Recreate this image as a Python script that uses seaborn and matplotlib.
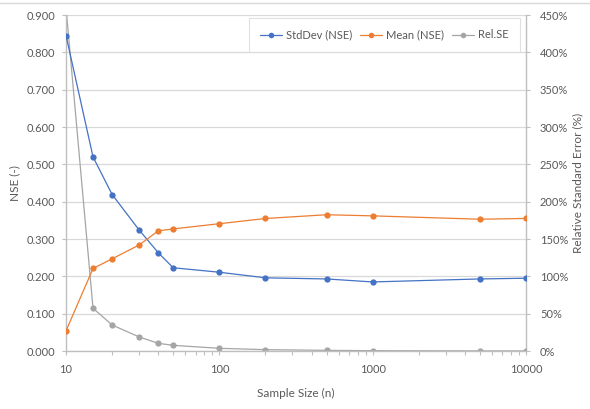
import matplotlib
matplotlib.use("Agg")
import matplotlib.pyplot as plt
import matplotlib.ticker as mticker
from matplotlib.lines import Line2D
import pandas as pd
import seaborn as sns

# sample sizes and the three series
sample_size = [10, 15, 20, 30, 40, 50, 100, 200, 500, 1000, 5000, 10000]
std_nse = [0.845, 0.520, 0.419, 0.324, 0.263, 0.223, 0.211, 0.196, 0.193, 0.185, 0.193, 0.195]
mean_nse = [0.054, 0.221, 0.247, 0.284, 0.322, 0.327, 0.341, 0.355, 0.365, 0.362, 0.353, 0.355]
rel_se = [460, 57.2, 34.8, 18.8, 10.3, 7.6, 3.6, 1.8, 0.9, 0.4, 0.1, 0.1]

blue = "#4472C4"
orange = "#ED7D31"
grey = "#A5A5A5"
txt = "#595959"

sns.set_theme(style="white")
plt.rcParams["font.family"] = ["Lato", "DejaVu Sans"]

df = pd.DataFrame({"n": sample_size, "std": std_nse, "mean": mean_nse, "rel": rel_se})

fig = plt.figure(figsize=(5.9, 4.09), dpi=100)
ax = fig.add_axes([0.1119, 0.1418, 0.7796, 0.8215])
ax2 = ax.twinx()
# NSE series on top of the Rel.SE line
ax.set_zorder(ax2.get_zorder() + 1)
ax.patch.set_visible(False)

line_kw = dict(marker="o", markersize=4.5, markeredgewidth=0, linewidth=0.9)
sns.lineplot(data=df, x="n", y="std", ax=ax, color=blue, zorder=4, **line_kw)
sns.lineplot(data=df, x="n", y="mean", ax=ax, color=orange, zorder=4, **line_kw)
sns.lineplot(data=df, x="n", y="rel", ax=ax2, color=grey, zorder=3, **line_kw)

ax.set_xscale("log")
ax.set_xlim(10, 10000)
ax.set_ylim(0, 0.9)
ax2.set_ylim(0, 450)

ax.yaxis.set_major_locator(mticker.MultipleLocator(0.1))
ax.yaxis.set_major_formatter(mticker.FormatStrFormatter("%.3f"))
ax2.yaxis.set_major_locator(mticker.MultipleLocator(50))
ax2.yaxis.set_major_formatter(mticker.FuncFormatter(lambda v, p: f"{v:.0f}%"))
ax.xaxis.set_major_locator(mticker.LogLocator(base=10))
ax.xaxis.set_major_formatter(mticker.FuncFormatter(lambda v, p: f"{v:.0f}"))
ax.xaxis.set_minor_locator(mticker.LogLocator(base=10, subs=range(2, 10)))
ax.xaxis.set_minor_formatter(mticker.NullFormatter())

# grid lives on the twin (lowest) axes so it stays under every line
ax2.grid(True, which="major", color="#D9D9D9", linewidth=0.9)
ax2.grid(True, which="minor", axis="x", color="#EBEBEB", linewidth=0.8)
ax2.set_axisbelow(True)

for a in (ax, ax2):
    for s in a.spines.values():
        s.set_visible(False)
ax.spines["left"].set_visible(True)
ax.spines["bottom"].set_visible(True)
ax2.spines["right"].set_visible(True)
for s in (ax.spines["left"], ax.spines["bottom"], ax2.spines["right"]):
    s.set_color("#BFBFBF")
    s.set_linewidth(1.0)

ax.tick_params(axis="both", which="both", colors="#BFBFBF", labelcolor=txt,
               labelsize=8, length=3, width=0.8, direction="out")
ax.tick_params(axis="x", which="both", bottom=True, pad=6)
ax.tick_params(axis="y", left=True, pad=5)
ax2.tick_params(axis="y", colors="#BFBFBF", labelcolor=txt, labelsize=8,
                length=3, width=0.8, right=True, pad=7)

ax.set_xlabel("Sample Size (n)", color=txt, fontsize=8.5, labelpad=10)
ax.set_ylabel("NSE (-)", color=txt, fontsize=8.5, labelpad=4)
ax2.set_ylabel("Relative Standard Error (%)", color=txt, fontsize=8.5, labelpad=3)

handles = [Line2D([], [], color=c, marker="o", markersize=4, markeredgewidth=0, linewidth=0.9)
           for c in (blue, orange, grey)]
leg = ax.legend(handles, ["StdDev (NSE)", "Mean (NSE)", "Rel.SE"], ncol=3,
                loc="upper right", bbox_to_anchor=(0.987, 0.99), borderaxespad=0,
                fontsize=8, frameon=True, fancybox=False, handlelength=2.0,
                columnspacing=0.7, handletextpad=0.35, borderpad=1.0)
leg.get_frame().set_edgecolor("#D9D9D9")
leg.get_frame().set_linewidth(0.8)
for t in leg.get_texts():
    t.set_color(txt)

fig.add_artist(Line2D([0, 1], [1 - 3 / 409, 1 - 3 / 409], transform=fig.transFigure,
                      color="#D9D9D9", linewidth=1))

fig.savefig("out.png", dpi=100)
